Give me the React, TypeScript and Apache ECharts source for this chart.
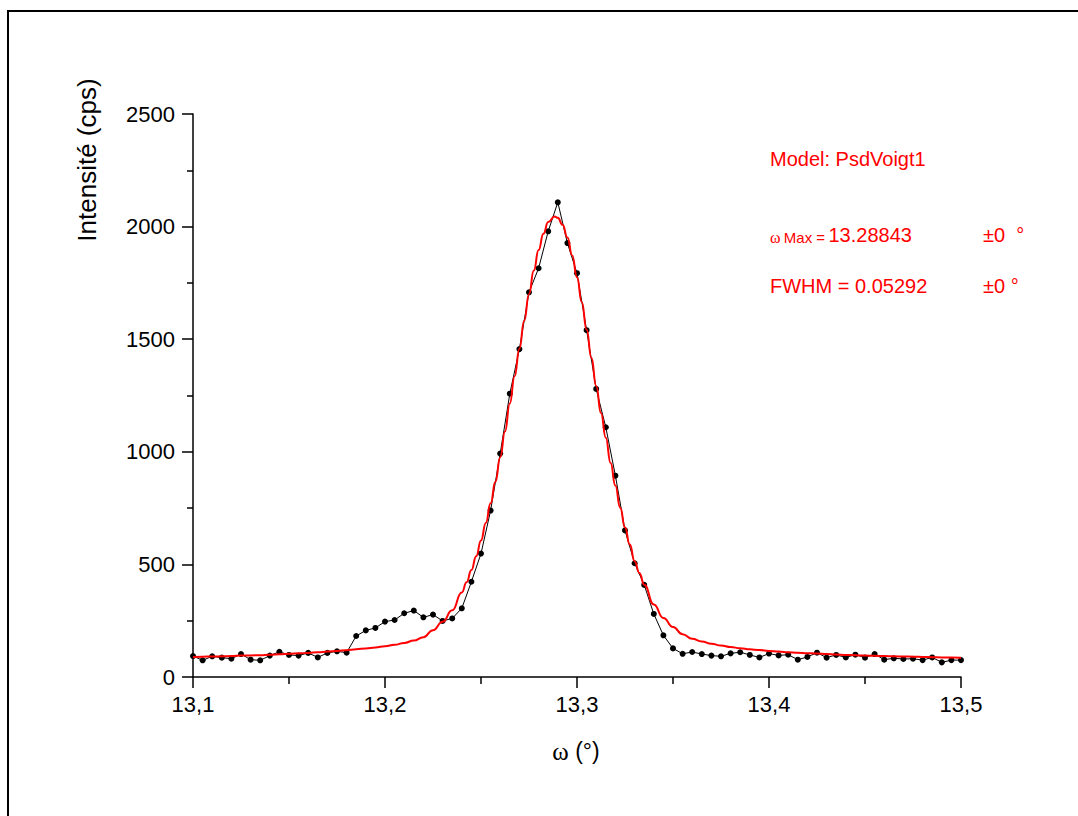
import React, { useEffect, useRef } from "react";
import * as echarts from "echarts";

// Measured scan: omega (°) and intensity (cps)
const omega: number[] = [
  13.1, 13.105, 13.11, 13.115, 13.12, 13.125, 13.13, 13.135, 13.14, 13.145,
  13.15, 13.155, 13.16, 13.165, 13.17, 13.175, 13.18, 13.185, 13.19, 13.195,
  13.2, 13.205, 13.21, 13.215, 13.22, 13.225, 13.23, 13.235, 13.24, 13.245,
  13.25, 13.255, 13.26, 13.265, 13.27, 13.275, 13.28, 13.285, 13.29, 13.295,
  13.3, 13.305, 13.31, 13.315, 13.32, 13.325, 13.33, 13.335, 13.34, 13.345,
  13.35, 13.355, 13.36, 13.365, 13.37, 13.375, 13.38, 13.385, 13.39, 13.395,
  13.4, 13.405, 13.41, 13.415, 13.42, 13.425, 13.43, 13.435, 13.44, 13.445,
  13.45, 13.455, 13.46, 13.465, 13.47, 13.475, 13.48, 13.485, 13.49, 13.495,
  13.5,
];
const intensity: number[] = [
  93, 74, 92, 86, 81, 102, 77, 74, 95, 112,
  98, 95, 107, 87, 107, 114, 108, 182, 207, 218,
  246, 253, 283, 295, 265, 277, 249, 260, 305, 423,
  548, 739, 992, 1258, 1456, 1708, 1815, 1979, 2108, 1927,
  1793, 1540, 1279, 1109, 894, 651, 505, 409, 280, 185,
  127, 103, 111, 102, 95, 92, 105, 110, 98, 87,
  104, 96, 99, 77, 89, 108, 86, 98, 87, 99,
  86, 102, 77, 83, 80, 81, 75, 87, 65, 75,
  75,
];

// Fitted PsdVoigt1 curve
const fitOmega: number[] = [
  13.1, 13.105, 13.11, 13.115, 13.12, 13.125, 13.13, 13.135, 13.14, 13.145,
  13.15, 13.155, 13.16, 13.165, 13.17, 13.175, 13.18, 13.185, 13.19, 13.195,
  13.2, 13.205, 13.21, 13.215, 13.22, 13.225, 13.23, 13.235, 13.24, 13.2425,
  13.245, 13.2475, 13.25, 13.2525, 13.255, 13.2575, 13.26, 13.2625, 13.265, 13.2675,
  13.27, 13.2725, 13.275, 13.2775, 13.28, 13.2825, 13.285, 13.2884, 13.29, 13.2925,
  13.295, 13.2975, 13.3, 13.3025, 13.305, 13.3075, 13.31, 13.3125, 13.315, 13.3175,
  13.32, 13.3225, 13.325, 13.3275, 13.33, 13.3325, 13.335, 13.34, 13.345, 13.35,
  13.355, 13.36, 13.365, 13.37, 13.375, 13.38, 13.385, 13.39, 13.395, 13.4,
  13.405, 13.41, 13.415, 13.42, 13.425, 13.43, 13.435, 13.44, 13.445, 13.45,
  13.455, 13.46, 13.465, 13.47, 13.475, 13.48, 13.485, 13.49, 13.495, 13.5,
];
const fitIntensity: number[] = [
  89, 90, 91, 92, 93, 95, 96, 97, 99, 101,
  103, 105, 107, 110, 113, 116, 119, 123, 127, 131,
  137, 143, 151, 162, 177, 208, 245, 296, 375, 421,
  475, 536, 606, 684, 771, 867, 975, 1090, 1215, 1335,
  1458, 1582, 1700, 1805, 1896, 1968, 2020, 2045, 2039, 2008,
  1952, 1872, 1775, 1664, 1543, 1418, 1292, 1172, 1062, 950,
  850, 752, 664, 588, 514, 462, 410, 322, 262, 222,
  190, 170, 158, 148, 140, 133, 128, 123, 120, 116,
  113, 110, 108, 106, 104, 102, 100, 98, 97, 95,
  94, 93, 92, 91, 90, 89, 88, 87, 87, 86,
];

const xTicks = { min: 13.1, max: 13.5, interval: 0.1 };
const yTicks = { min: 0, max: 2500, interval: 500 };

const FONT = "'Liberation Sans', Arial, sans-serif";
const SERIF = "'Liberation Serif', 'Times New Roman', serif";
const RED = "#ff0000";

export default function App() {
  const ref = useRef<HTMLDivElement>(null);

  useEffect(() => {
    if (!ref.current) return;
    const chart = echarts.init(ref.current, null, { renderer: "svg" });

    const measured = omega.map((x, i) => [x, intensity[i]]);
    const fit = fitOmega.map((x, i) => [x, fitIntensity[i]]);

    chart.setOption({
      animation: false,
      backgroundColor: "#ffffff",
      grid: { left: 193, top: 114, right: 117, bottom: 139, containLabel: false },
      xAxis: {
        type: "value",
        min: xTicks.min,
        max: xTicks.max,
        interval: xTicks.interval,
        axisLine: { show: true, onZero: false, lineStyle: { color: "#000", width: 1.5 } },
        axisTick: { show: true, inside: false, length: 11, lineStyle: { color: "#000", width: 1.5 } },
        minorTick: { show: true, splitNumber: 2, length: 7, lineStyle: { color: "#000", width: 1.5 } },
        splitLine: { show: false },
        axisLabel: {
          color: "#000",
          fontSize: 22,
          fontFamily: FONT,
          margin: 16,
          formatter: (v: number) => v.toFixed(1).replace(".", ","),
        },
      },
      yAxis: {
        type: "value",
        min: yTicks.min,
        max: yTicks.max,
        interval: yTicks.interval,
        axisLine: { show: true, onZero: false, lineStyle: { color: "#000", width: 1.5 } },
        axisTick: { show: true, inside: false, length: 11, lineStyle: { color: "#000", width: 1.5 } },
        minorTick: { show: true, splitNumber: 2, length: 6, lineStyle: { color: "#000", width: 1.5 } },
        splitLine: { show: false },
        axisLabel: {
          color: "#000",
          fontSize: 22,
          fontFamily: FONT,
          margin: 18,
          formatter: (v: number) => String(v),
        },
      },
      series: [
        {
          type: "line",
          data: measured,
          symbol: "circle",
          symbolSize: 6,
          showSymbol: true,
          itemStyle: { color: "#000" },
          lineStyle: { color: "#000", width: 1 },
          z: 2,
        },
        {
          type: "line",
          data: fit,
          symbol: "none",
          smooth: true,
          smoothMonotone: "x",
          lineStyle: { color: RED, width: 2 },
          z: 3,
        },
      ],
      graphic: [
        {
          type: "rect",
          shape: { x: 8, y: 11, width: 1200, height: 1000 },
          style: { fill: "none", stroke: "#000", lineWidth: 2 },
          silent: true,
        },
        {
          type: "text",
          x: 87,
          y: 160,
          rotation: Math.PI / 2,
          style: {
            text: "Intensité (cps)",
            fill: "#000",
            font: `26px ${FONT}`,
            textAlign: "center",
            textVerticalAlign: "middle",
          },
        },
        {
          type: "text",
          x: 576,
          y: 751,
          style: {
            text: "{w|ω}{t| (°)}",
            textAlign: "center",
            textVerticalAlign: "middle",
            rich: {
              w: { font: `25px ${SERIF}`, fill: "#000" },
              t: { font: `23px ${FONT}`, fill: "#000" },
            },
          },
        },
        {
          type: "text",
          x: 770,
          y: 159,
          style: {
            text: "Model: PsdVoigt1",
            fill: RED,
            font: `20px ${FONT}`,
            textAlign: "left",
            textVerticalAlign: "middle",
          },
        },
        {
          type: "text",
          x: 770,
          y: 235,
          style: {
            text: "{w|ω} {s|Max =} {b|13.28843}",
            textAlign: "left",
            textVerticalAlign: "middle",
            rich: {
              w: { font: `16px ${SERIF}`, fill: RED, verticalAlign: "bottom" },
              s: { font: `15px ${FONT}`, fill: RED, verticalAlign: "bottom" },
              b: { font: `20px ${FONT}`, fill: RED, verticalAlign: "bottom" },
            },
          },
        },
        {
          type: "text",
          x: 983,
          y: 235,
          style: {
            text: "±0  °",
            fill: RED,
            font: `20px ${FONT}`,
            textAlign: "left",
            textVerticalAlign: "middle",
          },
        },
        {
          type: "text",
          x: 770,
          y: 286,
          style: {
            text: "FWHM = 0.05292",
            fill: RED,
            font: `20px ${FONT}`,
            textAlign: "left",
            textVerticalAlign: "middle",
          },
        },
        {
          type: "text",
          x: 983,
          y: 286,
          style: {
            text: "±0 °",
            fill: RED,
            font: `20px ${FONT}`,
            textAlign: "left",
            textVerticalAlign: "middle",
          },
        },
      ],
    });

    return () => chart.dispose();
  }, []);

  return (
    <div
      ref={ref}
      style={{ position: "absolute", left: 0, top: 0, width: 1078, height: 816 }}
    />
  );
}
